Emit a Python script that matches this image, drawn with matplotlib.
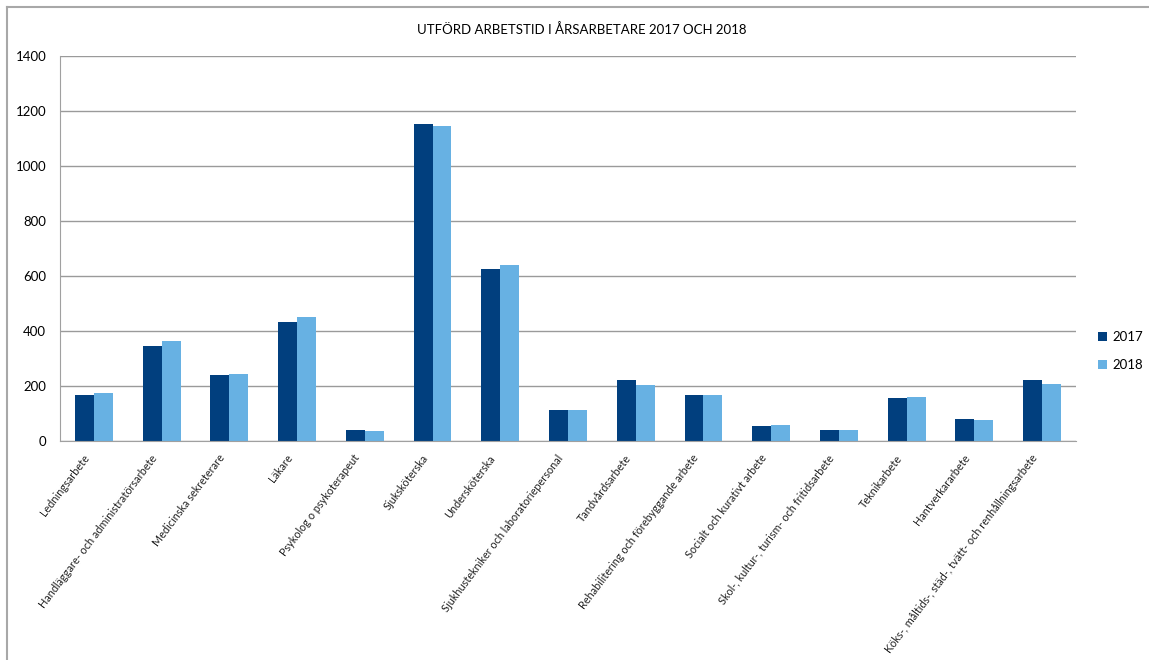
import matplotlib.pyplot as plt
import matplotlib.lines as mlines
import matplotlib.transforms as mtransforms
import numpy as np

yrken = [
    "Ledningsarbete",
    "Handläggare- och administratörsarbete",
    "Medicinska sekreterare",
    "Läkare",
    "Psykolog o psykoterapeut",
    "Sjuksköterska",
    "Undersköterska",
    "Sjukhustekniker och laboratoriepersonal",
    "Tandvårdsarbete",
    "Rehabilitering och förebyggande arbete",
    "Socialt och kurativt arbete",
    "Skol-, kultur-, turism- och fritidsarbete",
    "Teknikarbete",
    "Hantverkararbete",
    "Köks-, måltids-, städ-, tvätt- och renhållningsarbete",
]
ar_2017 = [166, 347, 241, 434, 39, 1152, 625, 114, 221, 166, 53, 39, 158, 80, 221]
ar_2018 = [173, 362, 242, 450, 36, 1146, 639, 112, 205, 166, 58, 39, 160, 76, 209]

plt.rcParams["font.family"] = ["Lato", "DejaVu Sans"]

fig = plt.figure(figsize=(11.49, 6.6), dpi=100)
ax = fig.add_axes([60 / 1149, 1 - 441 / 660, 1016 / 1149, 385 / 660])

x = np.arange(len(yrken))
w = 0.28
ax.bar(x - w / 2, ar_2017, width=w, color="#013F7E", label="2017")
ax.bar(x + w / 2, ar_2018, width=w, color="#67B1E3", label="2018")

ax.set_xlim(-0.5, len(yrken) - 0.5)
ax.set_ylim(0, 1400)
ax.set_yticks(range(0, 1401, 200))
ax.yaxis.grid(True, color="#9a9a9a", linewidth=1.0)
ax.set_axisbelow(True)
ax.tick_params(axis="y", length=0, labelsize=9.5, pad=10)
ax.tick_params(axis="x", length=0)

# kategorietiketter, snedställda under varje stapelpar
ax.set_xticks(x)
ax.set_xticklabels([])
skift = mtransforms.ScaledTranslation(-7 / 100, -15 / 100, fig.dpi_scale_trans)
for xi, namn in zip(x, yrken):
    ax.text(xi, 0, namn, transform=ax.get_xaxis_transform() + skift,
            rotation=53, rotation_mode="anchor", ha="right", va="center",
            fontsize=7.8, color="#222222")

for side in ["top", "right"]:
    ax.spines[side].set_visible(False)
for side in ["left", "bottom"]:
    ax.spines[side].set_color("#a0a0a0")

ax.legend(loc="center left", bbox_to_anchor=(1.01, 0.233), frameon=False,
          fontsize=9.5, handlelength=0.7, handleheight=0.7, handletextpad=0.4,
          labelspacing=1.2)

fig.text(582 / 1149, 1 - 30 / 660, "UTFÖRD ARBETSTID I ÅRSARBETARE 2017 OCH 2018",
         ha="center", va="center", fontsize=9.5)

# ram runt diagrammet
fig.add_artist(mlines.Line2D([7 / 1149, 7 / 1149], [0, 1 - 7 / 660],
                             transform=fig.transFigure, color="#a8a8a8", lw=1.5))
fig.add_artist(mlines.Line2D([7 / 1149, 1], [1 - 7 / 660, 1 - 7 / 660],
                             transform=fig.transFigure, color="#a8a8a8", lw=1.5))

fig.savefig("out.png", dpi=100)
